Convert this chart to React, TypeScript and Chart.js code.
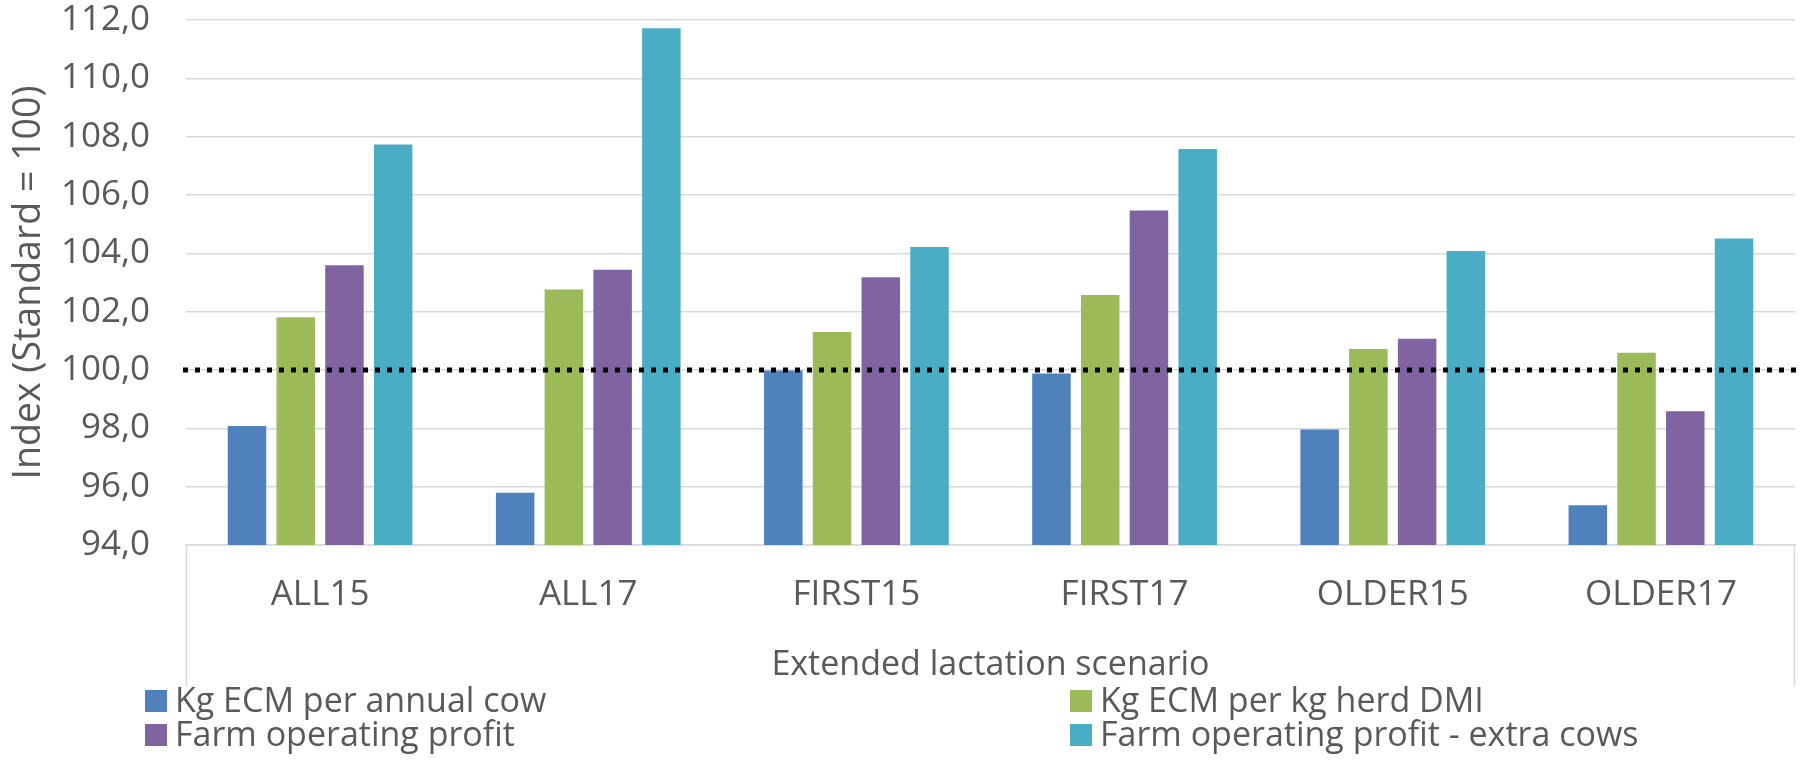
import React, { useEffect, useRef } from "react";
import { Chart, registerables } from "chart.js";

Chart.register(...registerables);

// ---- Data ----
const categories = ["ALL15", "ALL17", "FIRST15", "FIRST17", "OLDER15", "OLDER17"];
const kgEcmPerAnnualCow = [98.08, 95.79, 99.98, 99.88, 97.96, 95.36];
const kgEcmPerKgHerdDmi = [101.81, 102.76, 101.3, 102.57, 100.72, 100.59];
const farmOperatingProfit = [103.59, 103.44, 103.18, 105.47, 101.07, 98.59];
const farmOperatingProfitExtraCows = [107.73, 111.72, 104.22, 107.58, 104.08, 104.51];

const seriesLabels = [
  "Kg ECM per annual cow",
  "Kg ECM per kg herd DMI",
  "Farm operating profit",
  "Farm operating profit - extra cows",
];
const seriesColors = ["#4F81BD", "#9BBB59", "#8064A2", "#4BACC6"];

const yMin = 94;
const yMax = 112;
const yStep = 2;
const referenceValue = 100;

const yTitle = "Index (Standard = 100)";
const xTitle = "Extended lactation scenario";

const FONT = "'Open Sans', sans-serif";
const TEXT_COLOR = "#595959";
const GRID_COLOR = "#D9D9D9";

const decorPlugin = {
  id: "decor",
  beforeDatasetsDraw(chart: any) {
    const { ctx, chartArea } = chart;
    const xScale = chart.scales.x;
    ctx.save();
    // category axis frame (vertical sides)
    ctx.strokeStyle = GRID_COLOR;
    ctx.lineWidth = 1.5;
    ctx.beginPath();
    ctx.moveTo(chartArea.left + 0.5, chartArea.bottom);
    ctx.lineTo(chartArea.left + 0.5, xScale.bottom);
    ctx.moveTo(chartArea.right - 0.5, chartArea.bottom);
    ctx.lineTo(chartArea.right - 0.5, xScale.bottom);
    ctx.stroke();
    ctx.restore();
  },
  afterDatasetsDraw(chart: any) {
    const { ctx, chartArea } = chart;
    const y = chart.scales.y.getPixelForValue(referenceValue);
    ctx.save();
    ctx.strokeStyle = "#000000";
    ctx.lineWidth = 5;
    ctx.setLineDash([5, 7]);
    ctx.beginPath();
    ctx.moveTo(chartArea.left - 3, y);
    ctx.lineTo(chartArea.right + 3, y);
    ctx.stroke();
    ctx.restore();
  },
  afterDraw(chart: any) {
    const { ctx } = chart;
    const colX = [145, 1070];
    const rowY = [701, 735];
    ctx.save();
    ctx.font = `34px ${FONT}`;
    ctx.fillStyle = TEXT_COLOR;
    ctx.textBaseline = "middle";
    ctx.textAlign = "left";
    chart.data.datasets.forEach((ds: any, i: number) => {
      const cx = colX[i % 2];
      const cy = rowY[Math.floor(i / 2)];
      ctx.fillStyle = ds.backgroundColor;
      ctx.fillRect(cx, cy - 11, 22, 22);
      ctx.fillStyle = TEXT_COLOR;
      ctx.fillText(ds.label, cx + 30, cy + 1);
    });
    ctx.restore();
  },
};

export default function App() {
  const canvasRef = useRef<HTMLCanvasElement | null>(null);

  useEffect(() => {
    const canvas = canvasRef.current;
    if (!canvas) return;
    const seriesValues = [
      kgEcmPerAnnualCow,
      kgEcmPerKgHerdDmi,
      farmOperatingProfit,
      farmOperatingProfitExtraCows,
    ];
    const chart = new Chart(canvas, {
      type: "bar",
      data: {
        labels: categories,
        datasets: seriesValues.map((vals, i) => ({
          label: seriesLabels[i],
          data: vals,
          backgroundColor: seriesColors[i],
          borderWidth: 0,
          categoryPercentage: 0.727,
          barPercentage: 0.79,
        })),
      },
      options: {
        responsive: false,
        animation: false,
        events: [],
        layout: { padding: { left: 0, right: 10, top: 20, bottom: 74 } },
        plugins: {
          legend: { display: false },
          tooltip: { enabled: false },
          title: { display: false },
        },
        scales: {
          x: {
            grid: { display: false, drawTicks: false },
            border: { display: true, color: GRID_COLOR, width: 1.5 },
            ticks: {
              color: TEXT_COLOR,
              font: { family: FONT, size: 35, lineHeight: 1.2 },
              padding: 29,
              maxRotation: 0,
              autoSkip: false,
            },
            title: {
              display: true,
              text: xTitle,
              color: TEXT_COLOR,
              font: { family: FONT, size: 34, lineHeight: 1.2 },
              padding: 0,
            },
            afterFit(scale: any) {
              scale.height = 141;
              scale.paddingLeft = 0;
              scale.paddingRight = 0;
            },
          },
          y: {
            min: yMin,
            max: yMax,
            grid: { color: GRID_COLOR, lineWidth: 1.5, drawTicks: false },
            border: { display: false },
            ticks: {
              stepSize: yStep,
              color: TEXT_COLOR,
              font: { family: FONT, size: 35, lineHeight: 1.2 },
              padding: 36,
              callback: (v: any) => Number(v).toFixed(1).replace(".", ","),
            },
            title: {
              display: true,
              text: yTitle,
              color: TEXT_COLOR,
              font: { family: FONT, size: 37.5, lineHeight: 1.2 },
              padding: { top: 7, bottom: 0 },
            },
            afterFit(scale: any) {
              scale.width = 186;
              scale.paddingTop = 0;
              scale.paddingBottom = 0;
            },
          },
        },
      },
      plugins: [decorPlugin],
    });
    return () => chart.destroy();
  }, []);

  return (
    <div style={{ position: "fixed", left: 0, top: 0, width: 1805, height: 760, background: "#fff" }}>
      <canvas ref={canvasRef} width={1805} height={760} style={{ width: 1805, height: 760, display: "block" }} />
    </div>
  );
}
